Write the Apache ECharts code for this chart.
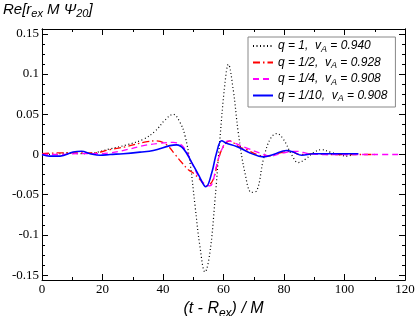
<!DOCTYPE html>
<html><head><meta charset="utf-8">
<script src="https://cdn.jsdelivr.net/npm/echarts@6/dist/echarts.min.js"></script>
<style>html,body{margin:0;padding:0;background:#fff}#c{width:415px;height:316px}</style>
</head><body><div id="c"></div>
<script>
// q = 1 (black dotted)
const tQ1 = [0, 4, 8, 12, 17, 22.5, 28, 33.5, 37.4, 40.7, 43.4, 45.6, 47.3, 49, 50.6, 52.2, 53.9, 55.5, 57.2, 58.8, 60.5, 61.6, 63.2, 64.9, 67.1, 69.3, 71, 73.2, 75.4, 77.6, 79.8, 82.5, 84.7, 87, 89.7, 92.4, 95.2, 99, 101, 103.5, 105];
const vQ1 = [0.001, 0.000, 0.002, 0.001, 0.002, 0.007, 0.012, 0.019, 0.029, 0.043, 0.050, 0.040, 0.023, -0.012, -0.064, -0.114, -0.146, -0.122, -0.056, 0.019, 0.089, 0.112, 0.081, 0.027, -0.023, -0.047, -0.045, -0.006, 0.019, 0.026, 0.019, 0.000, -0.010, -0.006, 0.002, 0.006, 0.003, -0.001, -0.002, 0.001, 0.000];
// q = 1/2 (red dash-dot)
const tQ2 = [0, 6, 12.6, 17, 22.5, 28, 33.5, 37.9, 41.2, 44, 46.2, 48.4, 50, 52.2, 54.4, 56.6, 58.3, 60, 62.1, 64.9, 67.7, 71, 74.3, 78.7, 82, 85.3, 90, 95, 100, 105, 110];
const vQ2 = [0.001, 0.002, 0.002, 0.002, 0.006, 0.010, 0.015, 0.017, 0.012, 0.000, -0.010, -0.019, -0.023, -0.031, -0.039, -0.031, -0.006, 0.010, 0.017, 0.010, 0.006, 0.000, -0.002, 0.002, 0.004, 0.000, 0.001, 0.000, 0.000, 0.000, 0.000];
// q = 1/4 (magenta dashed)
const tQ4 = [0, 6, 12, 17, 22.5, 28, 33.5, 39, 43.4, 46.6, 50, 51.7, 53.6, 55.5, 57.7, 59.4, 61.6, 63.8, 67.7, 71.9, 75.4, 79.8, 84.2, 88, 93, 100, 110, 118];
const vQ4 = [0.000, 0.000, 0.001, 0.001, 0.002, 0.006, 0.011, 0.014, 0.015, 0.010, -0.014, -0.027, -0.036, -0.039, -0.014, 0.006, 0.017, 0.014, 0.008, 0.002, -0.002, 0.002, 0.004, 0.001, 0.000, 0.000, 0.000, 0.000];
// q = 1/10 (blue solid)
const tQ10 = [0, 2.6, 6, 10.3, 13.1, 15.9, 19.2, 22.5, 26.9, 32.4, 36.8, 42.3, 44.5, 46.8, 49.5, 51.7, 54.2, 56.1, 57.7, 59.4, 61, 64.3, 68.8, 73.2, 76.5, 80.9, 83, 85.9, 89.7, 95, 100, 104.6];
const vQ10 = [0.000, -0.002, -0.002, 0.003, 0.004, 0.001, -0.001, 0.000, 0.001, 0.003, 0.005, 0.011, 0.012, 0.007, -0.010, -0.025, -0.040, -0.023, 0.002, 0.017, 0.014, 0.010, 0.002, -0.003, 0.000, 0.005, 0.003, -0.001, 0.001, 0.001, 0.001, 0.001];

const qLabels = ['1', '1/2', '1/4', '1/10'];
const vALabels = ['0.940', '0.928', '0.908', '0.908'];
const yMajor = [-0.15, -0.1, -0.05, 0, 0.05, 0.1, 0.15];
const yTickLabels = ['-0.15', '-0.1', '-0.05', '0', '0.05', '0.1', '0.15'];

const yMinor = [];
for (let k = -12; k <= 12; k++) yMinor.push(+(k * 0.0125).toFixed(4));

const zip = (t, v) => t.map((x, i) => [x, v[i]]);
const names = qLabels.map((q, i) => 'q = ' + q + ',  v_A = ' + vALabels[i]);

const serif = 'Liberation Serif';
const sans = 'Liberation Sans';
const YMIN = -0.156, YMAX = 0.156;

const yAxisBase = (pos, custom, len, labels) => ({
  type: 'value', position: pos, min: YMIN, max: YMAX,
  axisLine: { show: true, onZero: false, lineStyle: { color: '#000', width: 1 } },
  axisTick: { show: true, inside: true, length: len, customValues: custom, lineStyle: { color: '#000', width: 1 } },
  axisLabel: labels ? {
    show: true, customValues: yMajor, margin: 3, color: '#000', fontFamily: serif, fontSize: 13,
    formatter: v => { const i = yMajor.findIndex(m => Math.abs(m - v) < 1e-6); return i >= 0 ? yTickLabels[i] : ''; }
  } : { show: false },
  splitLine: { show: false }
});

const chart = echarts.init(document.getElementById('c'), null, { renderer: 'canvas' });
const lineStyles = [
  { color: '#000', width: 1.2, type: [1, 2.5] },
  { color: '#ff0000', width: 1.3, type: [7, 3, 1.5, 3] },
  { color: '#ff00ff', width: 1.3, type: [6, 4] },
  { color: '#0000ff', width: 1.6, type: 'solid' }
];
const datas = [zip(tQ1, vQ1), zip(tQ2, vQ2), zip(tQ4, vQ4), zip(tQ10, vQ10)];

chart.setOption({
  animation: false,
  backgroundColor: '#fff',
  grid: { left: 42, right: 10, top: 29, bottom: 36, containLabel: false, outerBoundsMode: 'none' },
  graphic: [{
    type: 'text', left: 3, top: 2,
    style: {
      text: '{m|Re[r}{s|ex}{m| M Ψ}{s|20}{m|]}',
      rich: {
        m: { fontFamily: sans, fontStyle: 'italic', fontSize: 15, fill: '#000' },
        s: { fontFamily: sans, fontStyle: 'italic', fontSize: 11, fill: '#000', padding: [8, 0, 0, 0] }
      }
    }
  }],
  xAxis: [{
    type: 'value', position: 'bottom', min: 0, max: 120, interval: 20,
    name: '{m|(t - R}{s|ex}{m|) / M}', nameLocation: 'middle', nameGap: 12,
    nameTextStyle: {
      verticalAlign: 'top',
      rich: {
        m: { fontFamily: sans, fontStyle: 'italic', fontSize: 16, color: '#000' },
        s: { fontFamily: sans, fontStyle: 'italic', fontSize: 12, color: '#000', padding: [9, 0, 0, 0] }
      }
    },
    axisLine: { show: true, onZero: false, lineStyle: { color: '#000', width: 1 } },
    axisTick: { show: true, inside: true, length: 6, lineStyle: { color: '#000' } },
    minorTick: { show: true, splitNumber: 2, length: 3, lineStyle: { color: '#000' } },
    axisLabel: { margin: 3, color: '#000', fontFamily: serif, fontSize: 13 },
    splitLine: { show: false }
  }, {
    type: 'value', position: 'top', min: 0, max: 120, interval: 20,
    axisLine: { show: true, onZero: false, lineStyle: { color: '#000', width: 1 } },
    axisTick: { show: true, inside: true, length: 6, lineStyle: { color: '#000' } },
    minorTick: { show: true, splitNumber: 2, length: 3, lineStyle: { color: '#000' } },
    axisLabel: { show: false },
    splitLine: { show: false }
  }],
  yAxis: [
    yAxisBase('left', yMajor, 6, true),
    yAxisBase('left', yMinor, 3, false),
    yAxisBase('right', yMajor, 6, false),
    yAxisBase('right', yMinor, 3, false)
  ],
  legend: {
    orient: 'vertical', left: 248, top: 37,
    backgroundColor: '#fff',
    borderColor: '#888', borderWidth: 1, borderRadius: 0,
    padding: [3, 8, 4, 4],
    itemWidth: 20, itemHeight: 10, itemGap: 3,
    itemStyle: { opacity: 0, borderWidth: 0, color: 'transparent' },
    data: names,
    formatter: n => {
      const i = names.indexOf(n);
      return '{m|q = ' + qLabels[i] + ',  v}{s|A}{m| = ' + vALabels[i] + '}';
    },
    textStyle: {
      rich: {
        m: { fontFamily: sans, fontStyle: 'italic', fontSize: 12, color: '#000' },
        s: { fontFamily: sans, fontStyle: 'italic', fontSize: 9, color: '#000', padding: [6, 0, 0, 0] }
      }
    }
  },
  series: datas.map((d, i) => ({
    name: names[i], type: 'line', xAxisIndex: 0, yAxisIndex: 0,
    data: d, smooth: 0.4, showSymbol: false, symbol: 'none',
    lineStyle: lineStyles[i], itemStyle: { color: lineStyles[i].color },
    z: 2 + i
  }))
});
</script></body></html>
